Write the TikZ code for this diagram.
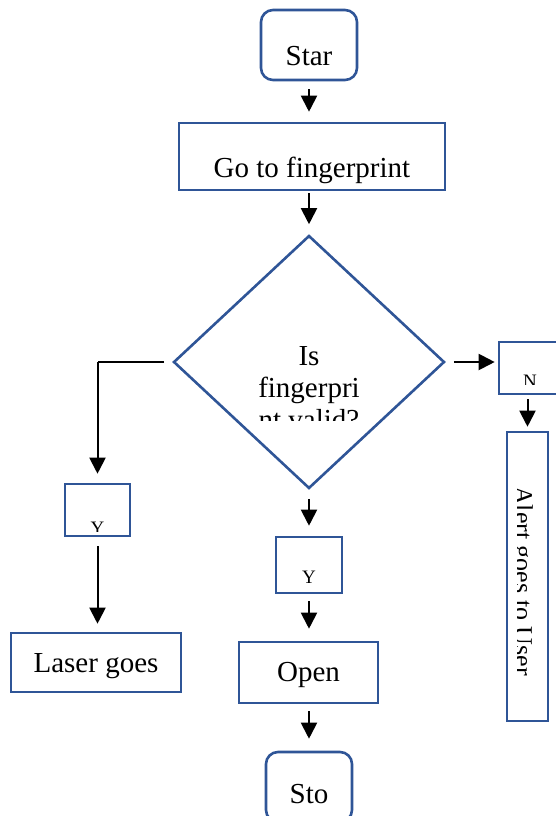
\documentclass[tikz,border=0pt]{standalone}
\usepackage{fontspec}
\setmainfont{Liberation Serif}
\usetikzlibrary{positioning, arrows.meta, shapes.geometric}
\definecolor{boxblue}{RGB}{47,85,151}

\tikzset{
    box/.style={draw=boxblue, line width=1.3pt, rectangle, inner sep=0pt, font=\fontsize{14.5}{16}\selectfont},
    term/.style={box, rounded corners=6pt},
    ansbox/.style={box, font=\fontsize{9.5}{11}\selectfont},
    decision/.style={draw=boxblue, line width=1.3pt, diamond, inner sep=0pt},
    flow/.style={-{Triangle[length=8pt,width=8pt]}, line width=1pt, shorten <=4pt, shorten >=5pt},
}

\begin{document}
\begin{tikzpicture}[x=0.5pt, y=-0.5pt]
    \useasboundingbox (0,0) rectangle (556,816);

    \node [term, minimum width=48pt, minimum height=35pt, text height=20pt, text depth=0pt] (start) at (309,45) {Star};
    \node [box, minimum width=133pt, minimum height=33.5pt, text height=20.5pt, text depth=0pt] (go) at (312,156.5) {Go to fingerprint};
    \node [decision, minimum width=135.5pt, minimum height=126.5pt] (valid) at (309,362) {};
    \node [ansbox, minimum width=31pt, minimum height=26pt] (yno) at (530,368) {};
    \node [box, minimum width=20.5pt, minimum height=144.5pt] (alert) at (527.5,576.5) {};
    \node [ansbox, minimum width=32.5pt, minimum height=26pt] (ylaser) at (97.5,510) {};
    \node [box, minimum width=85pt, minimum height=29.5pt, text height=12.5pt, text depth=3pt] (laser) at (96,662.5) {Laser goes};
    \node [ansbox, minimum width=33pt, minimum height=28pt, text height=18pt, text depth=0pt] (ymid) at (309,565) {Y};
    \node [box, minimum width=69.5pt, minimum height=30.5pt, text height=11.5pt, text depth=3pt] (open) at (308.5,672.5) {Open};
    \node [term, minimum width=43pt, minimum height=35pt, text height=16pt, text depth=0pt] (stop) at (309,787) {Sto};

    % texts that run past their boxes are cut off
    \begin{scope}
        \clip (200,330) rectangle (420,420);
        \node [anchor=north, align=center, inner sep=0pt, font=\fontsize{14.5}{16}\selectfont] (validtext) at (309,346) {Is\\fingerpri\\nt valid?};
    \end{scope}
    \begin{scope}
        \clip (500,350) rectangle (556,384);
        \node [anchor=base, inner sep=0pt, font=\fontsize{9.5}{11}\selectfont] (notext) at (530,387.6) {N};
    \end{scope}
    \begin{scope}
        \clip (70,500) rectangle (125,531);
        \node [anchor=base, inner sep=0pt, font=\fontsize{9.5}{11}\selectfont] (yestext) at (97.5,534.6) {Y};
    \end{scope}
    \begin{scope}
        \clip (517,440) rectangle (546,715);
        \node [rotate=-90, inner sep=0pt, font=\fontsize{13}{15}\selectfont] (alerttext) at (521,581) {Alert goes to User};
    \end{scope}

    \coordinate (bend) at (ylaser |- valid.west);

    \draw [flow] (start.south) -- (start.south |- go.north);
    \draw [flow, shorten <=1pt] (go.south -| valid) -- (valid.north);
    \draw [flow, shorten <=4.5pt] (valid.south) -- (ymid.north);
    \draw [flow, shorten <=3.5pt, shorten >=6pt] (ymid.south) -- (ymid.south |- open.north);
    \draw [flow, shorten <=3.5pt, shorten >=6pt] (open.south -| stop) -- (stop.north);
    \draw [flow, shorten >=1.5pt] (valid.east) -- (valid.east -| yno.west);
    \draw [flow, shorten <=2pt, shorten >=2pt] (yno.south -| alert) -- (alert.north);
    \draw [line width=0.6pt, shorten <=4pt] (valid.west) -- (bend);
    \draw [flow, shorten <=0pt, shorten >=4.5pt] (bend) -- (ylaser.north);
    \draw [flow, shorten <=4.5pt, shorten >=4pt] (ylaser.south) -- (ylaser.south |- laser.north);
\end{tikzpicture}
\end{document}
